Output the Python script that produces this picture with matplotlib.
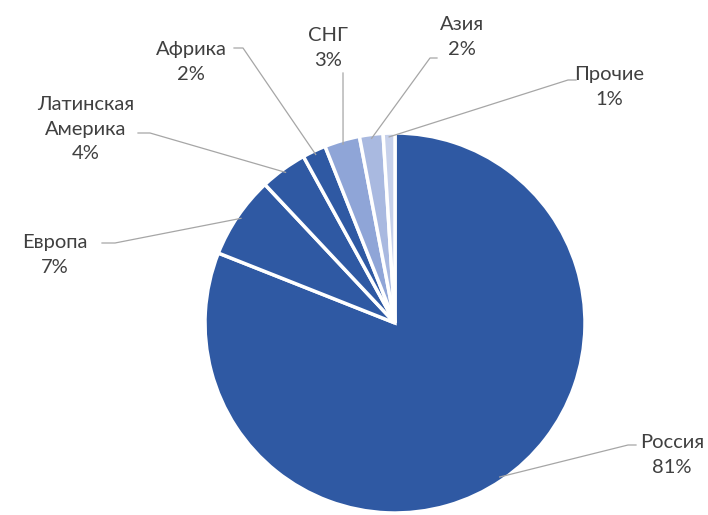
import numpy as np
import matplotlib.pyplot as plt

plt.rcParams['font.family'] = ['Lato', 'DejaVu Sans']

labels = ['Россия', 'Европа', 'Латинская\nАмерика', 'Африка', 'СНГ', 'Азия', 'Прочие']
values = [81, 7, 4, 2, 3, 2, 1]
colors = ['#2F59A3', '#2F59A3', '#2F59A3', '#2F59A3', '#8FA5D7', '#A9B9E0', '#C7D1EB']

# label centres (pixels, top-left origin)
label_pos = [(672, 455), (55, 255), (86, 129), (191, 62), (328, 48), (462, 37), (609, 87)]
# leader: start next to the text, then elbow, then to the wedge
lead_start = [(636, 445), (102, 243), (138, 133), (234, 48), (343, 73), (437, 58), (576, 80)]
lead_elbow = [(628, 445), (115, 243), (150, 133), (243, 48), (343, 75), (430, 58), (568, 80)]

W, H = 708, 515
cx, cy, r = 395, 323, 190

fig = plt.figure(figsize=(W / 100, H / 100), dpi=100)
ax = fig.add_axes([0, 0, 1, 1])

wedges, _ = ax.pie(values, colors=colors, startangle=90, counterclock=False,
                   center=(cx, H - cy), radius=r,
                   wedgeprops=dict(edgecolor='white', linewidth=2.5))
ax.set_xlim(0, W)
ax.set_ylim(0, H)
ax.set_aspect('equal')
ax.axis('off')

total = sum(values)
cum = 0
for i, (lab, v) in enumerate(zip(labels, values)):
    mid = 90 - (cum + v / 2) / total * 360
    cum += v
    px = cx + r * 0.98 * np.cos(np.radians(mid))
    py = (H - cy) + r * 0.98 * np.sin(np.radians(mid))
    sx, sy = lead_start[i]
    ex, ey = lead_elbow[i]
    ax.plot([sx, ex, px], [H - sy, H - ey, py], color='#A6A6A6', lw=0.9, zorder=3)
    tx, ty = label_pos[i]
    ax.text(tx, H - ty, f'{lab}\n{v}%', ha='center', va='center',
            fontsize=14.5, color='#404040', linespacing=1.55)

fig.savefig('out.png', dpi=100)
